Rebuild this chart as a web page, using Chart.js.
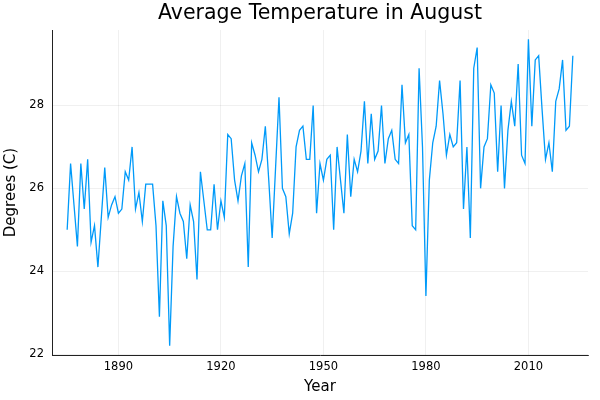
<!DOCTYPE html>
<html>
<head>
<meta charset="utf-8">
<title>Average Temperature in August</title>
<script src="https://cdn.jsdelivr.net/npm/chart.js@4.4.1/dist/chart.umd.min.js"></script>
<style>
    html, body { margin: 0; padding: 0; background: #fff; }
    #wrap { width: 600px; height: 400px; }
</style>
</head>
<body>
<div id="wrap"><canvas id="tempChart" width="600" height="400"></canvas></div>
<script>
// Data (August averages, 1875-2023)
const firstYear = 1875;
const temps = [
    25.0, 26.6, 25.6, 24.6, 26.6, 25.5, 26.7, 24.7, 25.1, 24.1,
    25.3, 26.5, 25.3, 25.6, 25.8, 25.4, 25.5, 26.4, 26.2, 27.0,
    25.5, 25.9, 25.2, 26.1, 26.1, 26.1, 25.1, 22.9, 25.7, 25.1,
    22.2, 24.6, 25.8, 25.4, 25.2, 24.3, 25.6, 25.2, 23.8, 26.4,
    25.7, 25.0, 25.0, 26.1, 25.0, 25.7, 25.3, 27.3, 27.2, 26.2,
    25.7, 26.3, 26.6, 24.1, 27.1, 26.8, 26.4, 26.7, 27.5, 26.2,
    24.8, 26.5, 28.2, 26.0, 25.8, 24.9, 25.4, 27.0, 27.4, 27.5,
    26.7, 26.7, 28.0, 25.4, 26.6, 26.2, 26.7, 26.8, 25.0, 27.0,
    26.2, 25.4, 27.3, 25.8, 26.7, 26.4, 26.9, 28.1, 26.6, 27.8,
    26.7, 26.9, 28.0, 26.6, 27.2, 27.4, 26.7, 26.6, 28.5, 27.1,
    27.3, 25.1, 25.0, 28.9, 27.0, 23.4, 26.2, 27.1, 27.5, 28.6,
    27.8, 26.8, 27.3, 27.0, 27.1, 28.6, 25.5, 27.0, 24.8, 28.9,
    29.4, 26.0, 27.0, 27.2, 28.5, 28.3, 26.4, 28.0, 26.0, 27.4,
    28.1, 27.5, 29.0, 26.8, 26.6, 29.6, 27.5, 29.1, 29.2, 27.9,
    26.7, 27.1, 26.4, 28.1, 28.4, 29.1, 27.4, 27.5, 29.2
];
const years = temps.map((_, i) => firstYear + i);
const xTicks = [1890, 1920, 1950, 1980, 2010];
const yTicks = [22, 24, 26, 28];

const FONT = '"DejaVu Sans", "Liberation Sans", sans-serif';

// Plots.jl style: 3% margin around the data range
function paddedRange(values) {
    const lo = Math.min(...values), hi = Math.max(...values);
    const pad = (hi - lo) * 0.03;
    return [lo - pad, hi + pad];
}
const [xMin, xMax] = paddedRange(years);
const [yMin, yMax] = paddedRange(temps);

// Title centred over the plot area, like the reference
const plotTitle = {
    id: 'plotTitle',
    afterDraw(chart) {
        const { ctx, chartArea } = chart;
        ctx.save();
        ctx.font = '20.5px ' + FONT;
        ctx.fillStyle = '#000';
        ctx.textAlign = 'center';
        ctx.textBaseline = 'alphabetic';
        ctx.fillText('Average Temperature in August', (chartArea.left + chartArea.right) / 2, 18.5);
        ctx.restore();
    }
};

new Chart(document.getElementById('tempChart'), {
    type: 'line',
    data: {
        datasets: [{
            label: 'y1',
            data: years.map((y, i) => ({ x: y, y: temps[i] })),
            borderColor: '#009af9',
            borderWidth: 1.3,
            pointRadius: 0,
            tension: 0,
            fill: false
        }]
    },
    options: {
        responsive: false,
        animation: false,
        layout: {
            padding: { top: 30, right: 12, left: 0, bottom: 0 }
        },
        plugins: {
            legend: { display: false },
            tooltip: { enabled: false }
        },
        scales: {
            x: {
                type: 'linear',
                min: xMin,
                max: xMax,
                afterBuildTicks: scale => { scale.ticks = xTicks.map(v => ({ value: v })); },
                afterFit: scale => { scale.height = 45; },
                ticks: {
                    padding: 5,
                    color: '#000',
                    font: { family: FONT, size: 11.5 },
                    callback: v => String(v)
                },
                grid: {
                    color: 'rgba(0,0,0,0.1)',
                    lineWidth: 0.6,
                    drawTicks: false
                },
                border: { display: true, color: '#222', width: 1 },
                title: {
                    display: true,
                    text: 'Year',
                    color: '#000',
                    font: { family: FONT, size: 15 },
                    padding: { top: 0, bottom: 4 }
                }
            },
            y: {
                min: yMin,
                max: yMax,
                afterBuildTicks: scale => { scale.ticks = yTicks.map(v => ({ value: v })); },
                afterFit: scale => { scale.width = 52; },
                ticks: {
                    padding: 8,
                    color: '#000',
                    font: { family: FONT, size: 11.5 },
                    callback: v => String(v)
                },
                grid: {
                    color: 'rgba(0,0,0,0.1)',
                    lineWidth: 0.6,
                    drawTicks: false
                },
                border: { display: true, color: '#222', width: 1 },
                title: {
                    display: true,
                    text: 'Degrees (C)',
                    color: '#000',
                    font: { family: FONT, size: 15 },
                    padding: { top: 2, bottom: 0 }
                }
            }
        }
    },
    plugins: [plotTitle]
});
</script>
</body>
</html>
